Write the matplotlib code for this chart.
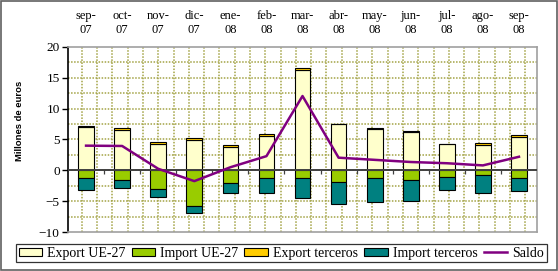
import numpy as np
import matplotlib.pyplot as plt
from matplotlib.patches import Rectangle

meses = ['sep-\n07', 'oct-\n07', 'nov-\n07', 'dic-\n07', 'ene-\n08', 'feb-\n08', 'mar-\n08',
         'abr-\n08', 'may-\n08', 'jun-\n08', 'jul-\n08', 'ago-\n08', 'sep-\n08']
export_ue = [7.05, 6.55, 4.3, 4.9, 3.8, 5.6, 16.3, 7.45, 6.75, 6.25, 4.25, 4.15, 5.4]
export_terceros = [0.1, 0.3, 0.3, 0.3, 0.3, 0.3, 0.3, 0.1, 0.1, 0.1, 0.1, 0.25, 0.25]
import_ue = [-1.25, -1.5, -3.05, -5.75, -2.05, -1.3, -1.3, -1.9, -1.3, -1.55, -1.1, -0.7, -1.3]
import_terceros = [-1.9, -1.4, -1.3, -1.2, -1.55, -2.3, -3.25, -3.6, -3.85, -3.45, -2.1, -2.9, -2.1]
saldo = [4.0, 3.95, 0.25, -1.75, 0.5, 2.3, 12.05, 2.05, 1.7, 1.35, 1.15, 0.8, 2.2]

x = np.arange(len(meses))

fig = plt.figure(figsize=(5.58, 2.71), dpi=100)
fig.patches.append(Rectangle((0.002, 0.004), 0.996, 0.992, transform=fig.transFigure,
                             fill=False, edgecolor='#606060', lw=1.2))
ax = fig.add_axes([0.1219, 0.1439, 0.8405, 0.6827])

# fondo de cuadricula punteada
for gx in np.arange(-0.5 + 0.38, 12.5, 0.424):
    ax.axvline(gx, color='#a3a345', lw=1.1, ls=(0, (1, 1)), zorder=0)
for gy in np.arange(-7.5, 20, 2.5):
    ax.axhline(gy, color='#a3a345', lw=1.1, ls=(0, (1, 1)), zorder=0)

w = 0.435
kw = dict(width=w, edgecolor='black', linewidth=0.8, zorder=3)
b1 = ax.bar(x, export_ue, color='#FFFFCC', label='Export UE-27', **kw)
b2 = ax.bar(x, import_ue, color='#99CC00', label='Import UE-27', **kw)
b3 = ax.bar(x, export_terceros, bottom=export_ue, color='#FFCC00', label='Export terceros', **kw)
b4 = ax.bar(x, import_terceros, bottom=import_ue, color='#008080', label='Import terceros', **kw)
l1, = ax.plot(x, saldo, color='#800080', lw=1.8, label='Saldo', zorder=5)

ax.axhline(0, color='#404040', lw=1.4, zorder=4)
ax.vlines(np.arange(0.5, 12.5, 1), -0.6, 0, color='#404040', lw=0.9, zorder=4)

ax.set_xlim(-0.5, 12.5)
ax.set_ylim(-10, 20)
ax.set_yticks(np.arange(-10, 21, 5))
ax.tick_params(axis='y', direction='out', length=4, width=1, labelsize=9.5, pad=2)
for t in ax.get_yticklabels():
    t.set_family('Liberation Serif')

ax.xaxis.tick_top()
ax.set_xticks(x)
ax.set_xticklabels(meses, family='Liberation Serif', fontsize=9, linespacing=1.25)
ax.tick_params(axis='x', length=0, pad=8)

ax.spines['left'].set_color('black')
ax.spines['left'].set_linewidth(1.2)
for s in ['top', 'right', 'bottom']:
    ax.spines[s].set_color('#a0a0a0')
    ax.spines[s].set_linewidth(1.2)

ax.set_ylabel('Millones de euros', family='Liberation Sans', fontweight='bold',
              fontsize=6.8, labelpad=10)
ax.yaxis.set_label_coords(-0.093, 0.6)

handles = [b1, b2, b3, b4, l1]
labels = [h.get_label() for h in handles]
leg = fig.legend(handles, labels, loc='center', bbox_to_anchor=(0.504, 0.066),
                 ncol=5, frameon=True, fancybox=False, edgecolor='black',
                 prop={'family': 'Liberation Serif', 'size': 10},
                 handlelength=1.7, handleheight=0.55, handletextpad=0.35,
                 columnspacing=0.45, borderpad=0.2, borderaxespad=0)
leg.get_frame().set_linewidth(0.9)

fig.savefig('out.png', dpi=100)
